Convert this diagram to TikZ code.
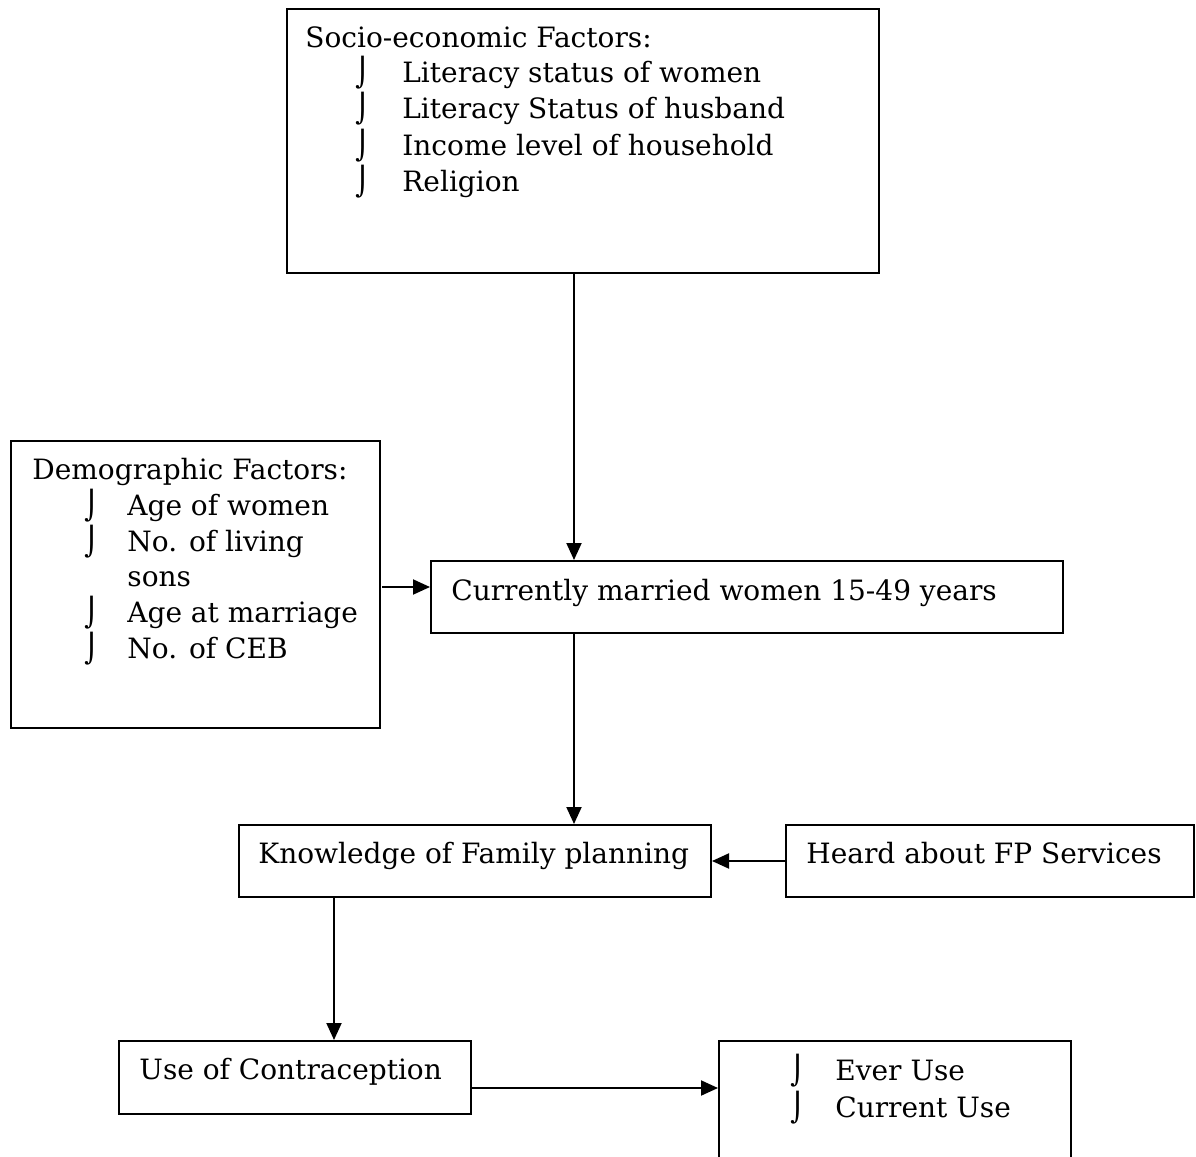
\documentclass[tikz,border=0pt]{standalone}
\usepackage{fontspec}
\setmainfont{DejaVu Serif}
\newfontfamily\symfont{DejaVu Sans}
\usetikzlibrary{arrows.meta,positioning}
\newcommand\bul{{\symfont ⌡}}
\tikzset{
  box/.style={draw,line width=1pt,inner sep=0pt,anchor=north west},
  txt/.style={inner sep=0pt,anchor=base west,font=\fontsize{14}{16}\selectfont},
  arr/.style={line width=1pt,-{Triangle[length=8.5pt,width=7.5pt]}}
}
\begin{document}
\begin{tikzpicture}[x=0.5pt,y=-0.5pt]
\clip (0,0) rectangle (1196,1157);
% boxes
\node[box,minimum width=296pt,minimum height=132pt] (socio) at (286,8) {};
\node[box,minimum width=184.5pt,minimum height=143.5pt] (demo) at (10,440) {};
\node[box,minimum width=316pt,minimum height=36pt] (married) at (430,560) {};
\node[box,minimum width=236pt,minimum height=36pt] (know) at (238,824) {};
\node[box,minimum width=204pt,minimum height=36pt] (heard) at (785,824) {};
\node[box,minimum width=176pt,minimum height=36.5pt] (use) at (118,1040) {};
\node[box,minimum width=176pt,minimum height=70pt] (ever) at (718,1040) {};
% texts
\node[txt] (socioT) at (305,47) {Socio-economic Factors:};
\foreach \y/\t in {82/Literacy status of women,118/Literacy Status of husband,
  155/Income level of household,191/Religion}{
  \node[txt] at (355,\y) {\bul};
  \node[txt] at (402,\y) {\t};
}
\node[txt] (demoT) at (32,479) {Demographic Factors:};
\foreach \y/\t in {515/Age of women,551/No. of living,622/Age at marriage,658/No. of CEB}{
  \node[txt] at (84,\y) {\bul};
  \node[txt] at (127,\y) {\t};
}
\node[txt] (sons) at (127,586) {sons};
\node[txt] (marriedT) at (451,600) {Currently married women 15-49 years};
\node[txt] (knowT) at (258,863) {Knowledge of Family planning};
\node[txt] (heardT) at (806,863) {Heard about FP Services};
\node[txt] (useT) at (139,1079) {Use of Contraception};
\foreach \y/\t in {1080/Ever Use,1117/Current Use}{
  \node[txt] at (790,\y) {\bul};
  \node[txt] at (835,\y) {\t};
}
% connectors
\coordinate (spine) at (574,0);
\coordinate (left) at (334,0);
\coordinate (demoOut) at (382,587);
\coordinate (useOut) at (use.east |- 0,1088);
\draw[arr] (socio.south -| spine) -- (married.north -| spine);
\draw[arr] (married.south -| spine) -- (know.north -| spine);
\draw[arr] (know.south -| left) -- (use.north -| left);
\draw[arr] (demoOut) -- (demoOut -| married.west);
\draw[arr] (heard.west) -- (know.east);
\draw[arr] (useOut) -- (useOut -| ever.west);
\end{tikzpicture}
\end{document}
